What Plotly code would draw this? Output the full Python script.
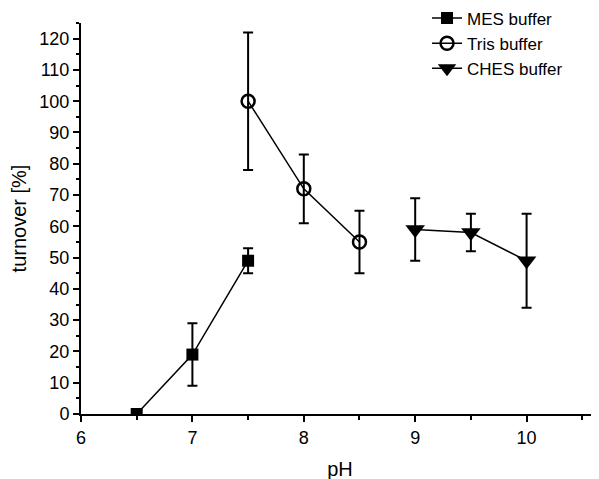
import plotly.graph_objects as go

mes_ph = [6.5, 7.0, 7.5]
mes_turnover = [0, 19, 49]
mes_err = [0, 10, 4]

tris_ph = [7.5, 8.0, 8.5]
tris_turnover = [100, 72, 55]
tris_err = [22, 11, 10]

ches_ph = [9.0, 9.5, 10.0]
ches_turnover = [59, 58, 49]
ches_err = [10, 6, 15]

x_ticks = [6, 7, 8, 9, 10]
y_ticks = list(range(0, 121, 10))

font = "Liberation Sans, Arial, sans-serif"

def eb(err):
    return dict(type="data", array=err, visible=True, color="black", thickness=2, width=5)

fig = go.Figure()
fig.add_trace(go.Scatter(x=mes_ph, y=mes_turnover, name="MES buffer", mode="lines+markers",
                         line=dict(color="black", width=1.5),
                         marker=dict(symbol="square", size=12, color="black"),
                         error_y=eb(mes_err)))
fig.add_trace(go.Scatter(x=tris_ph, y=tris_turnover, name="Tris buffer", mode="lines+markers",
                         line=dict(color="black", width=1.5),
                         marker=dict(symbol="circle-open", size=13, color="black", line=dict(width=2.5)),
                         error_y=eb(tris_err)))
fig.add_trace(go.Scatter(x=ches_ph, y=ches_turnover, name="CHES buffer", mode="lines+markers",
                         line=dict(color="black", width=1.5),
                         marker=dict(symbol="triangle-down", size=17, color="black"),
                         error_y=eb(ches_err)))

fig.update_layout(
    width=599, height=479,
    margin=dict(l=73, r=8, t=15, b=73, autoexpand=False),
    plot_bgcolor="white", paper_bgcolor="white",
    font=dict(family=font, size=18, color="black"),
    showlegend=True,
    legend=dict(x=0.668, y=1.0575, xanchor="left", yanchor="top", bgcolor="rgba(0,0,0,0)",
                font=dict(size=17), tracegroupgap=0, itemwidth=30),
    xaxis=dict(range=[6, 10.65], tickvals=x_ticks, showline=True, linecolor="black", linewidth=2,
               ticks="outside", ticklen=6, tickwidth=2, tickcolor="black", showgrid=False, zeroline=False,
               minor=dict(dtick=0.5, tick0=6, ticks="outside", ticklen=4, tickwidth=2, tickcolor="black"),
               title=dict(text="pH", font=dict(size=20), standoff=15), tickfont=dict(size=18)),
    yaxis=dict(range=[0, 125], tickvals=y_ticks, showline=True, linecolor="black", linewidth=2,
               ticks="outside", ticklen=6, tickwidth=2, tickcolor="black", showgrid=False, zeroline=False,
               minor=dict(dtick=5, tick0=0, ticks="outside", ticklen=3, tickwidth=1.5, tickcolor="black"),
               title=dict(text="turnover [%]", font=dict(size=20), standoff=8), tickfont=dict(size=18)),
)

fig.write_html("out.html")
